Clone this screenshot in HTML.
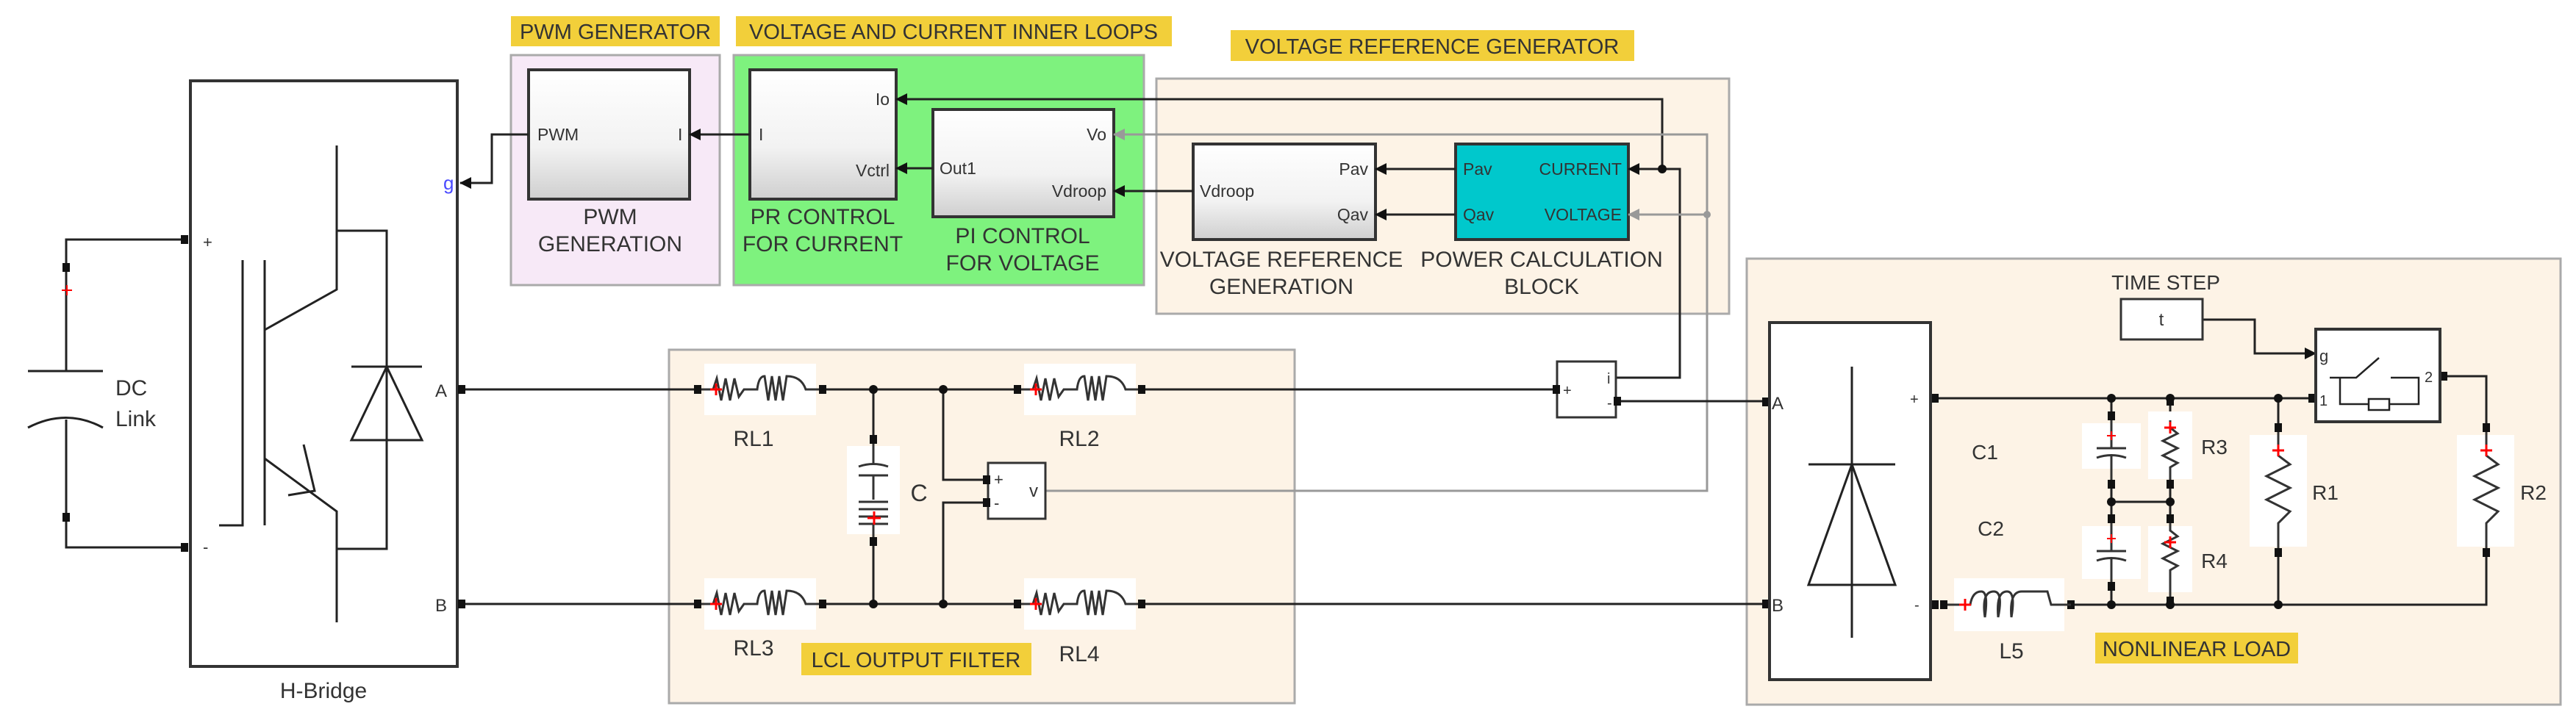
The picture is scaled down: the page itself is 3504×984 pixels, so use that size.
<!DOCTYPE html>
<html><head><meta charset="utf-8"><style>
html,body{margin:0;padding:0;background:#fff}
svg{display:block}
text{font-family:"Liberation Sans",sans-serif;fill:#333}
</style></head><body>
<svg width="3504" height="984" viewBox="0 0 3504 984" xmlns="http://www.w3.org/2000/svg">
<defs>
<linearGradient id="gb" x1="0" y1="0" x2="0" y2="1"><stop offset="0" stop-color="#ffffff"/><stop offset="0.6" stop-color="#f2f2f2"/><stop offset="1" stop-color="#cfcfcf"/></linearGradient>
<marker id="ar" markerWidth="16" markerHeight="16" refX="15" refY="8" orient="auto" markerUnits="userSpaceOnUse"><path d="M0,0 L16,8 L0,16z" fill="#111"/></marker>
<marker id="arg" markerWidth="16" markerHeight="16" refX="15" refY="8" orient="auto" markerUnits="userSpaceOnUse"><path d="M0,0 L16,8 L0,16z" fill="#999"/></marker>
</defs>

<rect x="695" y="75" width="284" height="313" fill="#f7e9f7" stroke="#aaa" stroke-width="3"/>
<rect x="998" y="75" width="558" height="313" fill="#7ef27e" stroke="#aaa" stroke-width="3"/>
<rect x="1573" y="107" width="779" height="320" fill="#fdf3e6" stroke="#aaa" stroke-width="3"/>
<rect x="910" y="476" width="851" height="481" fill="#fdf3e6" stroke="#aaa" stroke-width="3"/>
<rect x="2376" y="352" width="1107" height="607" fill="#fdf3e6" stroke="#aaa" stroke-width="3"/>

<rect x="695" y="22" width="284" height="41" fill="#f2cf3a"/>
<text x="837" y="53" font-size="29" text-anchor="middle">PWM GENERATOR</text>
<rect x="1001" y="22" width="593" height="41" fill="#f2cf3a"/>
<text x="1297" y="53" font-size="29" text-anchor="middle">VOLTAGE AND CURRENT INNER LOOPS</text>
<rect x="1674" y="41" width="549" height="42" fill="#f2cf3a"/>
<text x="1948" y="73" font-size="29" text-anchor="middle">VOLTAGE REFERENCE GENERATOR</text>
<rect x="1090" y="875" width="313" height="44" fill="#f2cf3a"/>
<text x="1246" y="908" font-size="29" text-anchor="middle">LCL OUTPUT FILTER</text>
<rect x="2850" y="861" width="276" height="42" fill="#f2cf3a"/>
<text x="2988" y="893" font-size="29" text-anchor="middle">NONLINEAR LOAD</text>

<rect x="719" y="95" width="219" height="176" fill="url(#gb)" stroke="#333" stroke-width="4"/>
<text x="731" y="191" font-size="23">PWM</text><text x="922" y="191" font-size="23">I</text>
<text x="830" y="305" font-size="30" text-anchor="middle">PWM</text>
<text x="830" y="342" font-size="30" text-anchor="middle">GENERATION</text>

<rect x="1020" y="95" width="199" height="176" fill="url(#gb)" stroke="#333" stroke-width="4"/>
<text x="1032" y="191" font-size="23">I</text>
<text x="1210" y="143" font-size="23" text-anchor="end">Io</text>
<text x="1210" y="240" font-size="23" text-anchor="end">Vctrl</text>
<text x="1119" y="305" font-size="30" text-anchor="middle">PR CONTROL</text>
<text x="1119" y="342" font-size="30" text-anchor="middle">FOR CURRENT</text>

<rect x="1269" y="149" width="246" height="146" fill="url(#gb)" stroke="#333" stroke-width="4"/>
<text x="1278" y="237" font-size="23">Out1</text>
<text x="1505" y="191" font-size="23" text-anchor="end">Vo</text>
<text x="1505" y="268" font-size="23" text-anchor="end">Vdroop</text>
<text x="1391" y="331" font-size="30" text-anchor="middle">PI CONTROL</text>
<text x="1391" y="368" font-size="30" text-anchor="middle">FOR VOLTAGE</text>

<rect x="1623" y="196" width="248" height="130" fill="url(#gb)" stroke="#333" stroke-width="4"/>
<text x="1632" y="268" font-size="23">Vdroop</text>
<text x="1861" y="238" font-size="23" text-anchor="end">Pav</text>
<text x="1861" y="300" font-size="23" text-anchor="end">Qav</text>
<text x="1743" y="363" font-size="30" text-anchor="middle">VOLTAGE REFERENCE</text>
<text x="1743" y="400" font-size="30" text-anchor="middle">GENERATION</text>

<rect x="1980" y="196" width="235" height="130" fill="#00c8cc" stroke="#333" stroke-width="4"/>
<text x="1990" y="238" font-size="23">Pav</text>
<text x="1990" y="300" font-size="23">Qav</text>
<text x="2206" y="238" font-size="23" text-anchor="end">CURRENT</text>
<text x="2206" y="300" font-size="23" text-anchor="end">VOLTAGE</text>
<text x="2097" y="363" font-size="30" text-anchor="middle">POWER CALCULATION</text>
<text x="2097" y="400" font-size="30" text-anchor="middle">BLOCK</text>

<g fill="none" stroke="#222" stroke-width="3">
<path d="M719,183 H669 V249 H626" marker-end="url(#ar)"/>
<path d="M1020,183 H938" marker-end="url(#ar)"/>
<path d="M1269,229 H1219" marker-end="url(#ar)"/>
<path d="M1623,260 H1515" marker-end="url(#ar)"/>
<path d="M1980,230 H1871" marker-end="url(#ar)"/>
<path d="M1980,292 H1871" marker-end="url(#ar)"/>
<path d="M2261,230 V135 H1219" marker-end="url(#ar)"/>
<path d="M2198,514 H2285 V230 H2215" marker-end="url(#ar)"/>
</g>
<circle cx="2261" cy="230" r="6" fill="#111"/>
<g fill="none" stroke="#999" stroke-width="3">
<path d="M1422,668 H2322 V292 H2215" marker-end="url(#arg)"/>
<path d="M2322,292 V183 H1515" marker-end="url(#arg)"/>
</g>
<circle cx="2322" cy="292" r="5" fill="#999"/>

<rect x="259" y="110" width="363" height="797" fill="#fff" stroke="#333" stroke-width="4"/>
<text x="440" y="950" font-size="30" text-anchor="middle">H-Bridge</text>
<text x="603" y="258" font-size="26" style="fill:#4a4aff">g</text>
<text x="276" y="337" font-size="22">+</text>
<text x="276" y="752" font-size="22">-</text>
<text x="592" y="540" font-size="24">A</text>
<text x="592" y="832" font-size="24">B</text>
<g fill="none" stroke="#222" stroke-width="3">
<path d="M298,715 H330 V354"/>
<path d="M360,354 V715"/>
<path d="M360,449 L458,394 V198"/>
<path d="M458,314 H526 V747 H458"/>
<path d="M360,624 L458,696 V847"/>
<path d="M413,605 L428,668 L392,674"/>
<path d="M478,499 H574"/>
<path d="M526,499 L478,599 H574 Z"/>
</g>
<g fill="none" stroke="#222" stroke-width="3">
<path d="M252,326 H90 V505"/>
<path d="M38,505 H140"/>
<path d="M38,582 Q90,555 140,582"/>
<path d="M90,571 V745 H252"/>
</g>
<path d="M84,395 H98 M91,388 V402" stroke="#f00" stroke-width="2"/>
<text x="157" y="538" font-size="30">DC</text>
<text x="157" y="580" font-size="30">Link</text>

<g fill="none" stroke="#222" stroke-width="3">
<path d="M626,530 H949"/><path d="M626,822 H949"/>
<path d="M1119,530 H1384"/><path d="M1119,822 H1384"/>
<path d="M1188,530 V598"/><path d="M1188,737 V822"/>
<path d="M1283,530 V653 H1344"/><path d="M1344,684 H1283 V822"/>
<path d="M1553,530 H2118"/><path d="M2198,546 H2398"/>
<path d="M1553,822 H2407"/>
<path d="M2626,542 H3150"/>
<path d="M2817,823 H3382 V512 H3319"/>
<path d="M2872,542 V566"/><path d="M2872,659 V706"/><path d="M2872,798 V823"/>
<path d="M2952,542 V566"/><path d="M2952,659 V706"/><path d="M2952,798 V823"/>
<path d="M2872,683 H2952"/>
<path d="M3099,542 V582"/><path d="M3099,752 V823"/>
<path d="M2996,435 H3067 V481 H3150" marker-end="url(#ar)"/>
</g>
<g fill="#111">
<circle cx="1188" cy="530" r="6"/><circle cx="1283" cy="530" r="6"/>
<circle cx="1188" cy="822" r="6"/><circle cx="1283" cy="822" r="6"/>
<circle cx="2872" cy="542" r="6"/><circle cx="2952" cy="542" r="6"/><circle cx="3099" cy="542" r="6"/>
<circle cx="2872" cy="683" r="6"/><circle cx="2952" cy="683" r="6"/>
<circle cx="2872" cy="823" r="6"/><circle cx="2952" cy="823" r="6"/><circle cx="3099" cy="823" r="6"/>
</g>

<g id="rl">
<rect x="958" y="495" width="152" height="70" fill="#fff"/>
<path d="M949,530 H970 L975,515 L981,545 L987,515 L993,545 L999,515 L1005,540 L1012,530 H1030 Q1032,512 1040,512 L1045,545 L1050,512 L1055,545 L1060,512 L1065,545 L1070,512 Q1090,512 1096,530 H1119" fill="none" stroke="#333" stroke-width="3"/>
<path d="M966,530 H982 M974,522 V538" stroke="#f00" stroke-width="3"/>
</g>
<use href="#rl" x="435" y="0"/>
<use href="#rl" x="0" y="292"/>
<use href="#rl" x="435" y="292"/>
<text x="1025" y="607" font-size="30" text-anchor="middle">RL1</text>
<text x="1025" y="892" font-size="30" text-anchor="middle">RL3</text>
<text x="1468" y="607" font-size="30" text-anchor="middle">RL2</text>
<text x="1468" y="900" font-size="30" text-anchor="middle">RL4</text>

<rect x="1152" y="607" width="72" height="120" fill="#fff"/>
<g fill="none" stroke="#333" stroke-width="3">
<path d="M1188,598 V633 M1168,635 Q1188,628 1208,635 M1168,647 H1208 M1188,647 V680"/>
<path d="M1168,683 H1208 M1168,693 H1208 M1168,703 H1208 M1168,713 H1208 M1188,713 V737"/>
</g>
<path d="M1180,705 H1198 M1189,696 V714" stroke="#f00" stroke-width="3"/>
<text x="1250" y="682" font-size="32" text-anchor="middle">C</text>

<rect x="1344" y="630" width="78" height="76" fill="#fff" stroke="#333" stroke-width="3"/>
<text x="1352" y="660" font-size="22">+</text><text x="1352" y="692" font-size="22">-</text><text x="1400" y="676" font-size="24">v</text>
<rect x="2118" y="492" width="80" height="76" fill="#fff" stroke="#333" stroke-width="3"/>
<text x="2126" y="538" font-size="20">+</text><text x="2186" y="522" font-size="20">i</text><text x="2186" y="555" font-size="20">-</text>

<g fill="#111">
<rect x="246" y="320" width="10" height="12"/><rect x="246" y="739" width="10" height="12"/>
<rect x="85" y="358" width="10" height="12"/><rect x="85" y="698" width="10" height="12"/>
<rect x="623" y="524" width="10" height="12"/><rect x="623" y="816" width="10" height="12"/>
<rect x="944" y="524" width="10" height="12"/><rect x="1114" y="524" width="10" height="12"/>
<rect x="1379" y="524" width="10" height="12"/><rect x="1548" y="524" width="10" height="12"/>
<rect x="944" y="816" width="10" height="12"/><rect x="1114" y="816" width="10" height="12"/>
<rect x="1379" y="816" width="10" height="12"/><rect x="1548" y="816" width="10" height="12"/>
<rect x="1183" y="592" width="10" height="12"/><rect x="1183" y="731" width="10" height="12"/>
<rect x="1337" y="647" width="10" height="12"/><rect x="1337" y="678" width="10" height="12"/>
<rect x="2112" y="524" width="10" height="12"/><rect x="2195" y="540" width="10" height="12"/>
<rect x="2397" y="541" width="10" height="12"/><rect x="2397" y="816" width="10" height="12"/>
<rect x="2627" y="536" width="10" height="12"/><rect x="2627" y="817" width="10" height="12"/><rect x="2639" y="817" width="10" height="12"/>
<rect x="2812" y="817" width="10" height="12"/>
<rect x="2867" y="560" width="10" height="12"/><rect x="2867" y="653" width="10" height="12"/>
<rect x="2867" y="700" width="10" height="12"/><rect x="2867" y="792" width="10" height="12"/>
<rect x="2947" y="540" width="10" height="12"/><rect x="2947" y="653" width="10" height="12"/>
<rect x="2947" y="700" width="10" height="12"/><rect x="2947" y="812" width="10" height="12"/>
<rect x="3094" y="576" width="10" height="12"/><rect x="3094" y="746" width="10" height="12"/>
<rect x="3377" y="576" width="10" height="12"/><rect x="3377" y="746" width="10" height="12"/>
<rect x="3140" y="536" width="10" height="12"/><rect x="3319" y="506" width="10" height="12"/>
</g>

<rect x="2407" y="439" width="219" height="486" fill="#fff" stroke="#333" stroke-width="4"/>
<g fill="none" stroke="#222" stroke-width="3">
<path d="M2519,499 V868"/><path d="M2460,632 H2578"/><path d="M2519,632 L2460,796 H2578 Z"/>
</g>
<text x="2410" y="557" font-size="24">A</text><text x="2410" y="832" font-size="24">B</text>
<text x="2598" y="550" font-size="20">+</text><text x="2604" y="830" font-size="20">-</text>

<rect x="2658" y="787" width="150" height="72" fill="#fff"/>
<path d="M2649,823 H2680 Q2683,805 2695,805 Q2705,805 2700,840 Q2695,805 2712,805 Q2725,805 2718,840 Q2715,805 2730,805 Q2742,805 2736,840 Q2733,805 2750,805 H2785 L2790,823 H2817" fill="none" stroke="#333" stroke-width="3"/>
<path d="M2665,823 H2681 M2673,815 V831" stroke="#f00" stroke-width="3"/>
<text x="2736" y="896" font-size="30" text-anchor="middle">L5</text>

<rect x="2832" y="576" width="80" height="62" fill="#fff"/><rect x="2832" y="716" width="80" height="72" fill="#fff"/>
<g fill="none" stroke="#333" stroke-width="3">
<path d="M2872,572 V610 M2852,610 H2892 M2852,623 Q2872,616 2892,623 M2872,620 V653"/>
<path d="M2872,712 V750 M2852,750 H2892 M2852,763 Q2872,756 2892,763 M2872,760 V792"/>
</g>
<path d="M2866,593 H2878 M2872,587 V599 M2866,733 H2878 M2872,727 V739" stroke="#f00" stroke-width="2"/>
<text x="2700" y="625" font-size="28" text-anchor="middle">C1</text>
<text x="2708" y="729" font-size="28" text-anchor="middle">C2</text>
<rect x="2922" y="560" width="60" height="92" fill="#fff"/><rect x="2922" y="716" width="60" height="90" fill="#fff"/>
<rect x="3060" y="592" width="78" height="152" fill="#fff"/><rect x="3342" y="592" width="78" height="152" fill="#fff"/>
<g fill="none" stroke="#333" stroke-width="3">
<path d="M2952,572 V582 L2962,590 L2942,600 L2962,610 L2942,620 L2962,630 L2952,636 V653"/>
<path d="M2952,712 V722 L2962,730 L2942,740 L2962,750 L2942,760 L2962,770 L2952,776 V812"/>
<path d="M3099,588 V620 L3115,632 L3083,648 L3115,664 L3083,680 L3115,696 L3099,712 V746"/>
<path d="M3382,588 V620 L3398,632 L3366,648 L3398,664 L3366,680 L3398,696 L3382,712 V746"/>
</g>
<g stroke="#f00" stroke-width="3">
<path d="M2944,582 H2960 M2952,574 V590 M2944,738 H2960 M2952,730 V746 M3091,613 H3107 M3099,605 V621 M3374,613 H3390 M3382,605 V621"/>
</g>
<text x="3012" y="618" font-size="28" text-anchor="middle">R3</text>
<text x="3012" y="773" font-size="28" text-anchor="middle">R4</text>
<text x="3163" y="680" font-size="28" text-anchor="middle">R1</text>
<text x="3446" y="680" font-size="28" text-anchor="middle">R2</text>

<text x="2946" y="394" font-size="28" text-anchor="middle">TIME STEP</text>
<rect x="2885" y="407" width="111" height="55" fill="#fff" stroke="#333" stroke-width="3"/>
<text x="2940" y="443" font-size="24" text-anchor="middle">t</text>
<rect x="3150" y="448" width="169" height="126" fill="#fff" stroke="#333" stroke-width="4"/>
<text x="3155" y="492" font-size="22">g</text><text x="3155" y="552" font-size="20">1</text><text x="3298" y="520" font-size="20">2</text>
<g fill="none" stroke="#222" stroke-width="2.5">
<path d="M3169,514 H3205 L3236,487"/><path d="M3252,514 H3290 V550 H3250"/>
<rect x="3222" y="543" width="28" height="15"/><path d="M3222,550 H3183 V514"/>
</g>
</svg>
</body></html>
